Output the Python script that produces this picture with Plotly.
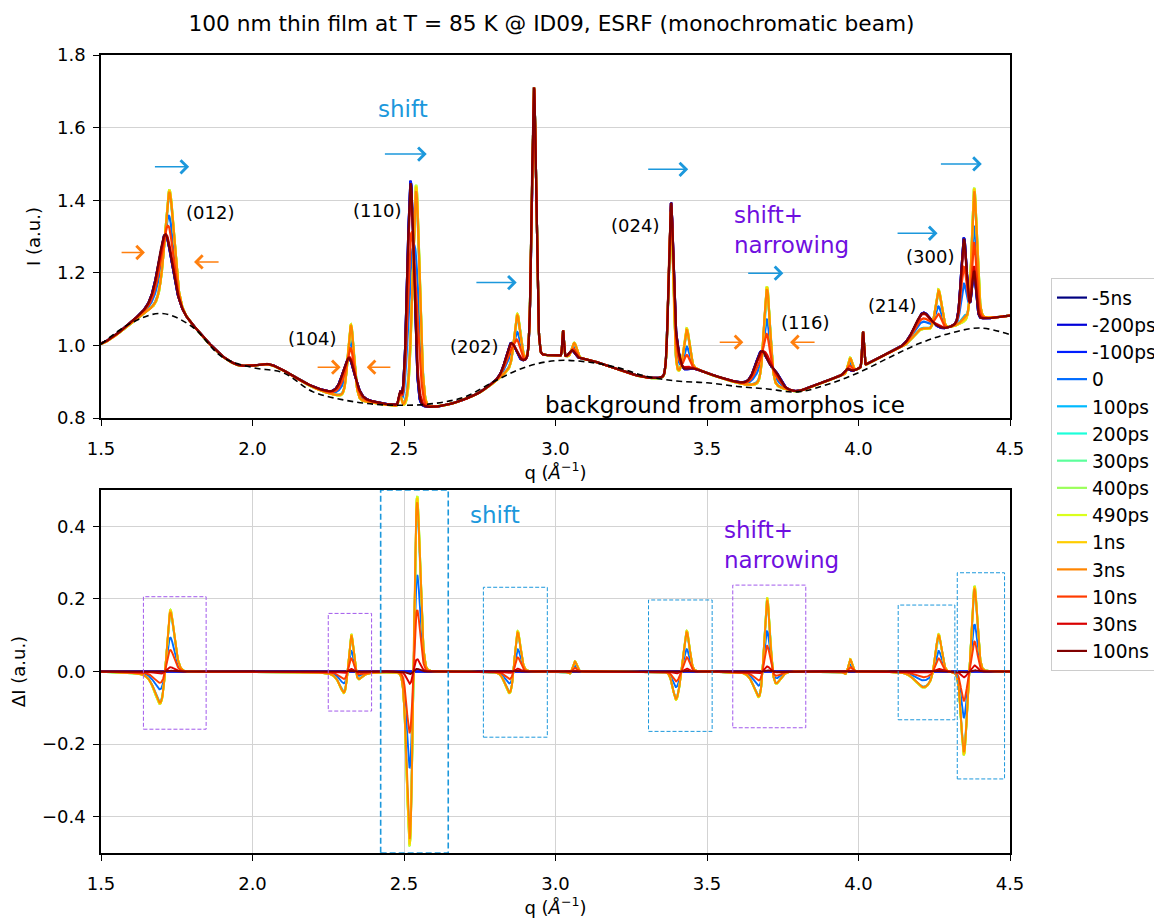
import numpy as np
import plotly.graph_objects as go

# ---------------- data ----------------
delays = ["-5ns", "-200ps", "-100ps", "0", "100ps", "200ps", "300ps",
          "400ps", "490ps", "1ns", "3ns", "10ns", "30ns", "100ns"]
# fraction of the film in the laser-heated (shifted / narrowed) state,
# read from the relative size of the ΔI features of each delay
converted_fraction = [0.0, 0.0, 0.0, 0.55, 0.93, 0.97, 1.0,
                      1.0, 1.0, 0.99, 0.96, 0.35, 0.07, 0.015]
colors = ["#000080", "#0000d9", "#001dff", "#006cff", "#00baff", "#1cffda",
          "#5cff9b", "#9bff5b", "#daff1c", "#ffcd00", "#ff8500", "#ff3c00",
          "#d90000", "#800000"]

# smooth baseline of the measured pattern, read between the Bragg peaks
base_q = [1.50, 1.55, 1.60, 1.65, 1.70, 1.75, 1.80, 1.85, 1.90, 1.95, 2.00,
          2.05, 2.10, 2.15, 2.20, 2.25, 2.30, 2.35, 2.40, 2.45, 2.50, 2.55,
          2.60, 2.65, 2.70, 2.75, 2.80, 2.85, 2.90, 2.95, 3.00, 3.05, 3.10,
          3.15, 3.20, 3.25, 3.30, 3.35, 3.40, 3.45, 3.50, 3.55, 3.60, 3.65,
          3.70, 3.75, 3.80, 3.85, 3.90, 3.95, 4.00, 4.05, 4.10, 4.15, 4.20,
          4.25, 4.30, 4.35, 4.40, 4.45, 4.50]
base_I = [1.000, 1.025, 1.058, 1.082, 1.088, 1.078, 1.048, 1.006, 0.966,
          0.942, 0.942, 0.950, 0.932, 0.905, 0.883, 0.866, 0.852, 0.842,
          0.840, 0.833, 0.828, 0.826, 0.828, 0.836, 0.850, 0.868, 0.898,
          0.930, 0.950, 0.968, 0.972, 0.968, 0.962, 0.950, 0.936, 0.920,
          0.910, 0.906, 0.915, 0.938, 0.922, 0.908, 0.895, 0.885, 0.882,
          0.878, 0.870, 0.888, 0.903, 0.918, 0.935, 0.958, 0.978, 0.995,
          1.015, 1.032, 1.045, 1.060, 1.070, 1.075, 1.082]

# amorphous-ice background (dashed line)
bg_q = [1.5, 1.6, 1.7, 1.8, 1.9, 2.0, 2.1, 2.2, 2.3, 2.4, 2.5, 2.6, 2.7,
        2.8, 2.9, 3.0, 3.1, 3.2, 3.3, 3.4, 3.5, 3.6, 3.7, 3.8, 3.9, 4.0,
        4.1, 4.2, 4.3, 4.4, 4.5]
bg_I = [1.003, 1.062, 1.088, 1.052, 0.968, 0.939, 0.925, 0.872, 0.850,
        0.838, 0.835, 0.840, 0.858, 0.902, 0.940, 0.958, 0.955, 0.940,
        0.915, 0.902, 0.897, 0.887, 0.880, 0.872, 0.893, 0.925, 0.966,
        1.005, 1.033, 1.048, 1.030]

# Bragg peaks before excitation (position, height, FWHM, Lorentz fraction)
cold_pos = [1.712, 2.318, 2.522, 2.853, 3.055, 3.398, 3.680, 3.725, 3.962, 4.212, 4.348]
cold_amp = [0.22, 0.115, 0.625, 0.075, 0.018, 0.08, 0.10, 0.035, 0.012, 0.07, 0.235]
cold_fwhm = [0.058, 0.05, 0.026, 0.04, 0.02, 0.026, 0.05, 0.04, 0.02, 0.065, 0.022]
cold_eta = [0.6, 0.5, 0.1, 0.3, 0.0, 0.2, 0.4, 0.0, 0.0, 0.3, 0.2]
# the same reflections in the heated state (shifted and/or narrowed)
hot_pos = [1.726, 2.325, 2.540, 2.874, 3.062, 3.433, 3.698, 3.972, 4.205, 4.264, 4.383]
hot_amp = [0.345, 0.21, 0.615, 0.145, 0.04, 0.115, 0.28, 0.04, 0.025, 0.115, 0.24]
hot_fwhm = [0.038, 0.024, 0.027, 0.024, 0.018, 0.022, 0.024, 0.016, 0.06, 0.024, 0.022]
hot_eta = [0.6, 0.3, 0.1, 0.3, 0.0, 0.2, 0.3, 0.0, 0.3, 0.3, 0.2]
# reflections that do not change
fixed_pos = [2.487, 2.929, 3.025, 3.381, 4.015, 4.381]
fixed_amp = [0.03, 0.748, 0.07, 0.455, 0.095, 0.13]
fixed_fwhm = [0.01, 0.017, 0.006, 0.018, 0.007, 0.016]
fixed_eta = [0.0, 0.1, 0.0, 0.1, 0.0, 0.2]

q_ticks = [1.5, 2.0, 2.5, 3.0, 3.5, 4.0, 4.5]
I_ticks = [0.8, 1.0, 1.2, 1.4, 1.6, 1.8]
dI_ticks = [-0.4, -0.2, 0.0, 0.2, 0.4]

# ---------------- build the curves ----------------
q = np.linspace(1.5, 4.5, 3001)


def pseudo_voigt(pos, amp, fwhm, eta):
    out = np.zeros_like(q)
    for c, a, w, e in zip(pos, amp, fwhm, eta):
        x = (q - c) / (w / 2.0)
        out += a * (e / (1 + x ** 2) + (1 - e) * np.exp(-np.log(2) * x ** 2))
    return out


base_lin = np.interp(q, base_q, base_I)
k = 41
padded = np.concatenate([np.full(k // 2, base_lin[0]), base_lin, np.full(k // 2, base_lin[-1])])
base = np.convolve(padded, np.ones(k) / k, mode="valid")

cold = pseudo_voigt(cold_pos, cold_amp, cold_fwhm, cold_eta)
hot = pseudo_voigt(hot_pos, hot_amp, hot_fwhm, hot_eta)
fixed = pseudo_voigt(fixed_pos, fixed_amp, fixed_fwhm, fixed_eta)

curves = [base + fixed + (1 - f) * cold + f * hot for f in converted_fraction]
reference = curves[0]

FONT = "DejaVu Sans"
BLUE = "#1c98dc"
ORANGE = "#ff7f0e"
PURPLE = "#6f0fe0"
PURPLE_BOX = "#a259ec"

fig = go.Figure()
for name, col, I in zip(delays, colors, curves):
    fig.add_trace(go.Scatter(x=q, y=I, mode="lines", name=name,
                             line=dict(color=col, width=2.2),
                             xaxis="x", yaxis="y", legendgroup=name))
fig.add_trace(go.Scatter(x=bg_q, y=bg_I, mode="lines", showlegend=False,
                         line=dict(color="black", width=1.6, dash="6px,4px", shape="spline"),
                         xaxis="x", yaxis="y", hoverinfo="skip"))
for name, col, I in zip(delays, colors, curves):
    fig.add_trace(go.Scatter(x=q, y=I - reference, mode="lines", name=name,
                             line=dict(color=col, width=1.9), showlegend=False,
                             xaxis="x2", yaxis="y2", legendgroup=name))

axis_common = dict(showline=True, linecolor="black", linewidth=1.5, mirror=True,
                   ticks="outside", ticklen=6, tickwidth=1.4, tickcolor="black",
                   tickfont=dict(size=18, color="black", family=FONT),
                   zeroline=False, gridcolor="#d3d3d3", gridwidth=1.4)
qtitle = dict(text="q (<i>Å</i><sup>−1</sup>)", font=dict(size=18, color="black", family=FONT), standoff=8)

# the page adds an 8 px body margin: the figure is laid out 8 px up/left
fig.update_layout(
    width=1162, height=919, template=None,
    paper_bgcolor="white", plot_bgcolor="white",
    margin=dict(l=93, r=160, t=47, b=74, autoexpand=False),
    font=dict(family=FONT, size=18, color="black"),
    title=dict(text="100 nm thin film at T = 85 K @ ID09, ESRF (monochromatic beam)",
               x=0.4956, xref="paper", xanchor="center",
               y=1 - 15 / 919, yref="container", yanchor="middle",
               font=dict(size=21.7, family=FONT, color="black")),
    xaxis=dict(domain=[0, 1], anchor="y", range=[1.5, 4.5], tickvals=q_ticks,
               tickformat=".1f", showgrid=False, title=qtitle, ticklabelstandoff=8,
               **axis_common),
    yaxis=dict(domain=[0.5451, 1], anchor="x", range=[0.8, 1.8], tickvals=I_ticks,
               tickformat=".1f", showgrid=True, ticklabelstandoff=4,
               title=dict(text="I (a.u.)", font=dict(size=18, family=FONT), standoff=12),
               **axis_common),
    xaxis2=dict(domain=[0, 1], anchor="y2", range=[1.5, 4.5], tickvals=q_ticks,
                tickformat=".1f", showgrid=True, title=qtitle, ticklabelstandoff=8,
                **axis_common),
    yaxis2=dict(domain=[0, 0.4549], anchor="x2", range=[-0.5, 0.5], tickvals=dI_ticks,
                tickformat=".1f", showgrid=True, ticklabelstandoff=4,
                title=dict(text="ΔI (a.u.)", font=dict(size=18, family=FONT), standoff=12),
                **axis_common),
    legend=dict(x=(1043 - 93) / 909, y=(845 - 270) / 798, xanchor="left", yanchor="top",
                bgcolor="white", bordercolor="#cccccc", borderwidth=1,
                font=dict(size=18.6, family=FONT, color="black"), tracegroupgap=0),
    showlegend=True,
)

ann = []


def text(x, y, s, color="black", size=18, ref=("x", "y"), **kw):
    d = dict(x=x, y=y, xref=ref[0], yref=ref[1], text=s, showarrow=False,
             font=dict(size=size, color=color, family=FONT))
    d.update(kw)
    ann.append(d)


def arrow(x0, x1, y, color, ref=("x", "y")):
    ann.append(dict(x=x1, y=y, ax=x0, ay=y, xref=ref[0], yref=ref[1],
                    axref=ref[0], ayref=ref[1], text="", showarrow=True,
                    arrowhead=4, arrowsize=1.7, arrowwidth=1.5, arrowcolor=color))


# top panel labels
text(1.860, 1.365, "(012)")
text(2.410, 1.373, "(110)")
text(2.196, 1.020, "(104)")
text(2.731, 0.997, "(202)")
text(3.262, 1.329, "(024)")
text(3.823, 1.062, "(116)")
text(4.111, 1.109, "(214)")
text(4.236, 1.246, "(300)")
text(2.497, 1.651, "shift", color=BLUE, size=23)
text(3.582, 1.318, "shift+<br>narrowing", color=PURPLE, size=23, xanchor="left", align="left")
text(3.559, 0.836, "background from amorphos ice", size=23)

for x0, x1, y in [(1.673, 1.791, 1.492), (2.432, 2.575, 1.527), (2.734, 2.872, 1.173),
                  (3.301, 3.438, 1.485), (3.631, 3.752, 1.199), (4.124, 4.261, 1.309),
                  (4.267, 4.407, 1.500)]:
    arrow(x0, x1, y, BLUE)
for x0, x1, y in [(1.563, 1.645, 1.256), (1.893, 1.807, 1.230), (2.210, 2.291, 0.940),
                  (2.460, 2.377, 0.940), (3.537, 3.620, 1.009), (3.860, 3.774, 1.009)]:
    arrow(x0, x1, y, ORANGE)

# bottom panel labels
text(2.800, 0.432, "shift", color=BLUE, size=23, ref=("x2", "y2"))
text(3.549, 0.348, "shift+<br>narrowing", color=PURPLE, size=23, ref=("x2", "y2"),
     xanchor="left", align="left")
fig.update_layout(annotations=ann)

shapes = []


def box(x0, x1, y0, y1, color, width=1.0, dash="4px,2px"):
    shapes.append(dict(type="rect", xref="x2", yref="y2", x0=x0, x1=x1, y0=y0, y1=y1,
                       line=dict(color=color, width=width, dash=dash), layer="above"))


box(1.640, 1.847, -0.159, 0.206, PURPLE_BOX)
box(2.250, 2.393, -0.109, 0.160, PURPLE_BOX)
box(2.423, 2.646, -0.5, 0.5, BLUE, width=1.6, dash="6px,3px")
box(2.762, 2.973, -0.181, 0.232, BLUE)
box(3.307, 3.517, -0.165, 0.197, BLUE)
box(3.585, 3.826, -0.155, 0.238, PURPLE_BOX)
box(4.131, 4.318, -0.133, 0.183, BLUE)
box(4.326, 4.482, -0.296, 0.272, BLUE)
fig.update_layout(shapes=shapes)

fig.write_html("out.html")
